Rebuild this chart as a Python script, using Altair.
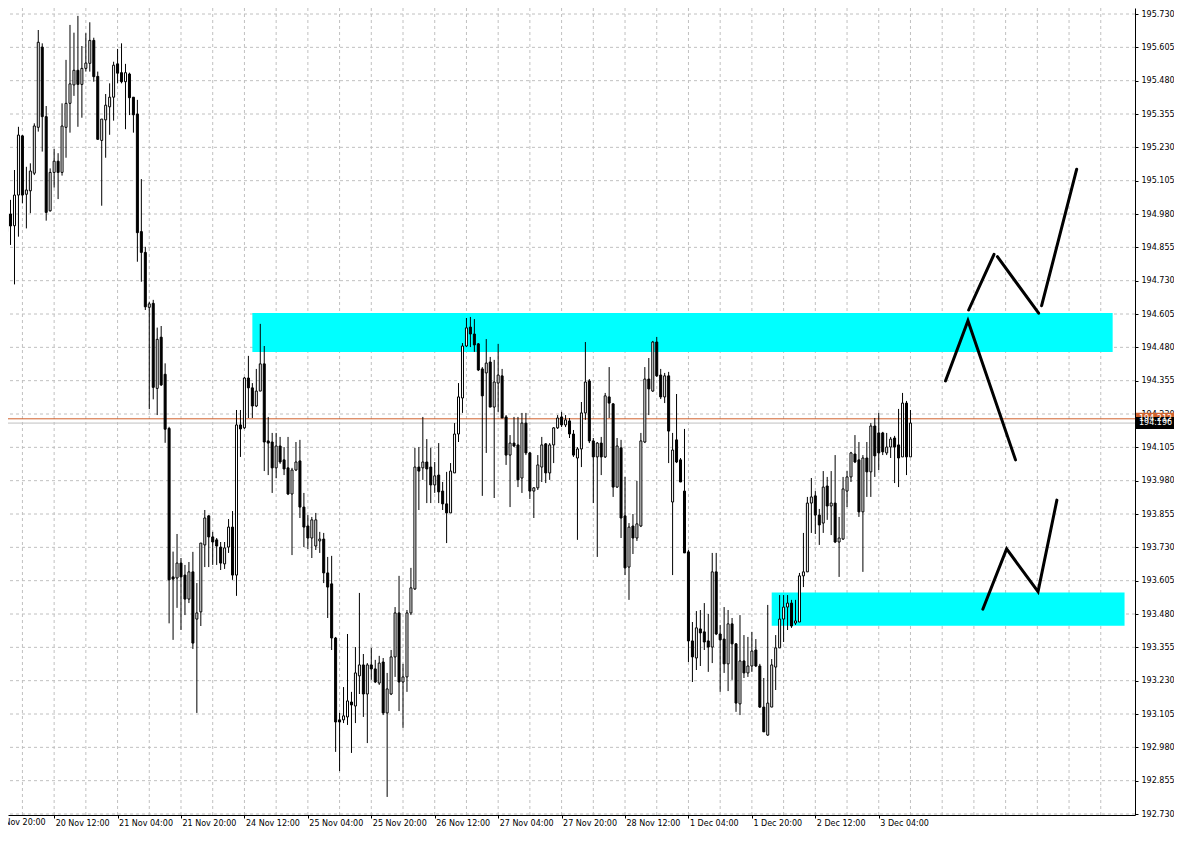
import altair as alt
import pandas as pd

# ---------------- data (H1 candles, 20 Nov 00:00 -> 3 Dec 12:00) ----------------
opens = [
    194.914, 194.980, 194.936, 195.051, 195.273, 195.054, 195.067, 195.133, 195.305, 195.606,
    195.345, 194.992, 195.136, 195.178, 195.136, 195.305, 195.395, 195.464, 195.519, 195.466,
    195.526, 195.545, 195.631, 195.496, 195.256, 195.333, 195.382, 195.418, 195.543, 195.510,
    195.476, 195.505, 195.418, 195.355, 194.914, 194.836, 194.630, 194.645, 194.326, 194.518,
    194.379, 194.176, 193.619, 193.615, 193.671, 193.626, 193.536, 193.638, 193.461, 193.488,
    193.739, 193.848, 193.769, 193.758, 193.731, 193.668, 193.731, 193.806, 193.626, 194.189,
    194.178, 194.365, 194.328, 194.260, 194.316, 194.418, 194.129, 194.125, 194.028, 194.110,
    194.058, 194.028, 193.930, 194.020, 194.054, 193.881, 193.810, 193.765, 193.735, 193.754,
    193.761, 193.634, 193.593, 193.390, 193.083, 193.083, 193.094, 193.150, 193.135, 193.248,
    193.289, 193.180, 193.289, 193.274, 193.221, 193.300, 193.109, 193.180, 193.319, 193.484,
    193.225, 193.244, 193.484, 193.574, 194.031, 194.028, 194.050, 194.031, 193.964, 194.001,
    193.941, 193.893, 193.859, 194.009, 194.155, 194.290, 194.485, 194.556, 194.530, 194.493,
    194.399, 194.384, 194.425, 194.256, 194.346, 194.373, 194.219, 194.076, 194.121, 194.114,
    193.990, 194.196, 194.084, 193.941, 193.953, 194.031, 194.118, 194.009, 194.114, 194.178,
    194.219, 194.189, 194.204, 194.155, 194.065, 194.099, 194.234, 194.354, 194.129, 194.069,
    194.121, 194.069, 194.294, 194.268, 193.956, 194.103, 193.848, 193.656, 193.810, 193.765,
    193.810, 194.125, 194.361, 194.316, 194.500, 194.376, 194.294, 194.373, 193.900, 194.133,
    194.058, 193.941, 193.713, 193.379, 193.315, 193.424, 193.413, 193.379, 193.356, 193.638,
    193.405, 193.386, 193.293, 193.443, 193.368, 193.143, 193.304, 193.259, 193.285, 193.345,
    193.285, 193.131, 193.026, 193.131, 193.281, 193.353, 193.461, 193.506, 193.521, 193.446,
    193.450, 193.623, 193.638, 193.896, 193.923, 193.851, 193.821, 193.960, 193.885, 193.896,
    193.750, 193.761, 193.941, 193.994, 194.080, 194.058, 193.863, 194.065, 194.013, 194.185,
    194.159, 194.159, 194.084, 194.106, 194.140, 194.114, 194.069, 194.271, 194.069,
]
highs = [
    195.070, 195.033, 195.145, 195.307, 195.276, 195.157, 195.170, 195.320, 195.670, 195.620,
    195.385, 195.151, 195.224, 195.208, 195.395, 195.558, 195.689, 195.660, 195.723, 195.610,
    195.658, 195.699, 195.641, 195.514, 195.336, 195.430, 195.470, 195.551, 195.599, 195.620,
    195.543, 195.510, 195.418, 195.408, 195.111, 194.857, 194.651, 194.658, 194.554, 194.560,
    194.420, 194.182, 193.714, 193.780, 193.690, 193.664, 193.675, 193.713, 193.596, 193.746,
    193.870, 193.851, 193.788, 193.765, 193.750, 193.750, 193.836, 193.866, 194.245, 194.245,
    194.369, 194.448, 194.346, 194.399, 194.568, 194.485, 194.219, 194.159, 194.159, 194.144,
    194.106, 194.144, 194.028, 194.125, 194.133, 193.934, 193.851, 193.844, 193.859, 193.788,
    193.784, 193.694, 193.698, 193.394, 193.109, 193.206, 193.405, 193.188, 193.356, 193.559,
    193.330, 193.296, 193.353, 193.308, 193.323, 193.315, 193.259, 193.345, 193.506, 193.623,
    193.293, 193.495, 193.653, 194.103, 194.106, 194.219, 194.136, 194.103, 194.050, 194.121,
    193.975, 194.013, 194.046, 194.196, 194.346, 194.496, 194.590, 194.594, 194.586, 194.496,
    194.406, 194.511, 194.444, 194.433, 194.493, 194.399, 194.226, 194.151, 194.219, 194.219,
    194.234, 194.234, 194.088, 193.956, 194.076, 194.144, 194.121, 194.121, 194.181, 194.226,
    194.238, 194.226, 194.215, 194.170, 194.106, 194.275, 194.500, 194.361, 194.140, 194.125,
    194.144, 194.309, 194.406, 194.271, 194.140, 194.133, 193.994, 193.821, 193.855, 193.979,
    194.159, 194.406, 194.440, 194.504, 194.519, 194.399, 194.384, 194.388, 194.159, 194.305,
    194.065, 194.174, 193.720, 193.450, 193.491, 193.495, 193.521, 193.480, 193.709, 193.709,
    193.439, 193.506, 193.495, 193.465, 193.371, 193.476, 193.401, 193.394, 193.413, 193.386,
    193.293, 193.240, 193.514, 193.311, 193.401, 193.551, 193.551, 193.551, 193.533, 193.533,
    193.634, 193.784, 193.919, 193.990, 193.941, 193.874, 194.016, 193.994, 194.016, 194.076,
    193.844, 193.994, 194.016, 194.088, 194.151, 194.125, 194.076, 194.125, 194.196, 194.215,
    194.234, 194.163, 194.159, 194.144, 194.148, 194.249, 194.309, 194.279, 194.245,
]
lows = [
    194.895, 194.864, 194.716, 194.895, 195.020, 194.926, 194.983, 195.126, 195.289, 195.214,
    194.955, 194.989, 195.079, 195.036, 195.124, 195.191, 195.285, 195.423, 195.307, 195.341,
    195.514, 195.514, 195.476, 195.260, 195.011, 195.191, 195.277, 195.330, 195.470, 195.470,
    195.298, 195.351, 195.285, 194.801, 194.726, 194.620, 194.248, 194.285, 194.226, 194.335,
    194.122, 193.445, 193.383, 193.503, 193.420, 193.476, 193.521, 193.349, 193.109, 193.435,
    193.656, 193.656, 193.664, 193.664, 193.645, 193.649, 193.709, 193.608, 193.548, 194.069,
    194.174, 194.215, 194.215, 194.256, 194.316, 194.016, 194.001, 193.934, 193.990, 194.043,
    194.001, 193.926, 193.701, 194.016, 193.840, 193.731, 193.724, 193.690, 193.720, 193.709,
    193.596, 193.465, 193.345, 192.963, 192.891, 193.071, 193.064, 192.959, 193.071, 193.180,
    193.094, 192.996, 193.233, 193.221, 193.214, 193.101, 192.794, 193.176, 193.244, 193.116,
    193.053, 193.188, 193.476, 193.570, 193.870, 193.983, 193.896, 193.896, 193.934, 193.896,
    193.870, 193.746, 193.859, 194.009, 194.125, 194.234, 194.481, 194.481, 194.463, 194.391,
    193.923, 194.084, 194.256, 193.915, 194.238, 194.215, 194.039, 193.881, 194.106, 193.956,
    193.934, 194.076, 193.911, 193.840, 193.945, 193.975, 193.971, 193.983, 194.046, 194.174,
    194.181, 194.181, 194.140, 194.069, 193.758, 194.031, 194.208, 194.121, 193.896, 193.694,
    194.001, 194.065, 194.215, 193.919, 193.953, 193.765, 193.626, 193.533, 193.705, 193.754,
    193.806, 194.121, 194.226, 194.313, 194.369, 194.286, 194.271, 194.046, 193.626, 194.046,
    193.975, 193.709, 193.300, 193.225, 193.270, 193.285, 193.345, 193.263, 193.296, 193.401,
    193.188, 193.259, 193.191, 193.233, 193.113, 193.101, 193.240, 193.244, 193.263, 193.281,
    193.128, 193.038, 193.023, 193.131, 193.195, 193.353, 193.375, 193.420, 193.428, 193.439,
    193.450, 193.581, 193.638, 193.784, 193.780, 193.739, 193.784, 193.833, 193.776, 193.746,
    193.619, 193.758, 193.881, 193.975, 194.046, 193.844, 193.638, 193.919, 193.919, 193.994,
    194.020, 194.076, 194.076, 194.065, 193.971, 193.956, 194.069, 194.001, 194.069,
]
closes = [
    194.983, 194.935, 195.051, 195.276, 195.051, 195.070, 195.141, 195.310, 195.624, 195.345,
    194.986, 195.136, 195.178, 195.136, 195.310, 195.395, 195.468, 195.519, 195.466, 195.526,
    195.546, 195.631, 195.495, 195.260, 195.336, 195.388, 195.418, 195.538, 195.508, 195.476,
    195.510, 195.416, 195.352, 194.910, 194.836, 194.632, 194.643, 194.330, 194.510, 194.339,
    194.173, 193.608, 193.611, 193.671, 193.619, 193.536, 193.638, 193.371, 193.484, 193.746,
    193.840, 193.769, 193.750, 193.735, 193.671, 193.728, 193.806, 193.626, 194.189, 194.174,
    194.365, 194.328, 194.260, 194.316, 194.418, 194.125, 194.121, 194.028, 194.110, 194.050,
    194.024, 193.930, 194.020, 194.050, 193.881, 193.806, 193.765, 193.833, 193.833, 193.761,
    193.634, 193.581, 193.390, 193.075, 193.075, 193.098, 193.154, 193.139, 193.259, 193.289,
    193.180, 193.289, 193.274, 193.225, 193.296, 193.109, 193.199, 193.319, 193.484, 193.225,
    193.244, 193.484, 193.578, 194.031, 194.016, 194.050, 194.024, 193.964, 193.998, 193.938,
    193.893, 193.859, 194.016, 194.155, 194.294, 194.485, 194.553, 194.530, 194.489, 194.395,
    194.298, 194.421, 194.256, 194.350, 194.376, 194.215, 194.076, 194.121, 194.110, 193.983,
    194.196, 194.084, 193.941, 193.953, 194.039, 194.114, 194.009, 194.114, 194.178, 194.215,
    194.189, 194.208, 194.155, 194.076, 194.099, 194.234, 194.350, 194.129, 194.069, 194.121,
    194.069, 194.298, 194.271, 193.956, 194.110, 193.840, 193.653, 193.806, 193.765, 193.818,
    194.129, 194.361, 194.324, 194.500, 194.373, 194.294, 194.373, 194.166, 194.095, 194.050,
    193.975, 193.709, 193.379, 193.319, 193.428, 193.409, 193.375, 193.356, 193.638, 193.405,
    193.383, 193.293, 193.443, 193.368, 193.146, 193.304, 193.259, 193.285, 193.341, 193.285,
    193.131, 193.038, 193.146, 193.289, 193.353, 193.461, 193.506, 193.521, 193.435, 193.454,
    193.623, 193.638, 193.896, 193.919, 193.851, 193.814, 193.956, 193.885, 193.896, 193.750,
    193.765, 193.949, 193.994, 194.084, 194.050, 193.863, 194.065, 194.013, 194.185, 194.073,
    194.084, 194.088, 194.106, 194.136, 194.106, 194.065, 194.271, 194.069, 194.196,
]

# price axis ticks
price_ticks = [
    192.730, 192.855, 192.980, 193.105, 193.230, 193.355, 193.480, 193.605, 193.730,
    193.855, 193.980, 194.105, 194.230, 194.355, 194.480, 194.605, 194.730, 194.855,
    194.980, 195.105, 195.230, 195.355, 195.480, 195.605, 195.730,
]
# time axis labels (candle index -> label)
label_idx = [12, 28, 44, 60, 76, 92, 108, 124, 140, 156, 172, 188, 204, 220]
label_txt = [
    "20 Nov 12:00", "21 Nov 04:00", "21 Nov 20:00", "24 Nov 12:00",
    "25 Nov 04:00", "25 Nov 20:00", "26 Nov 12:00", "27 Nov 04:00", "27 Nov 20:00",
    "28 Nov 12:00", "1 Dec 04:00", "1 Dec 20:00", "2 Dec 12:00", "3 Dec 04:00",
]
first_label_idx = [-4]
first_label_txt = ["19 Nov 20:00"]
vgrid_idx = list(range(4, 284, 8))

# cyan zones (candle index span, price span)
zone_i0 = [62, 193]
zone_i1 = [279, 282]
zone_top = [194.609, 193.561]
zone_bot = [194.4625, 193.436]

# hand-drawn scenario lines
zig_group = ["a", "a", "a", "b1", "b1", "b2", "b2", "b3", "b3", "c", "c", "c", "c"]
zig_i = [236.83, 242.5, 254.5, 242.68, 249.08, 249.93, 260.33, 261.08, 269.93,
         246.25, 252.25, 260.18, 264.93]
zig_p = [194.354, 194.580, 194.058, 194.620, 194.829, 194.820, 194.608, 194.636, 195.148,
         193.498, 193.724, 193.564, 193.907]

# current price lines / tags
pline_p = [194.212, 194.196]
pline_col = ["#d0622e", "#c0c0c0"]
tag_p = [194.212, 194.196]
tag_txt = ["194.212", "194.196"]
tag_bg = ["#d0622e", "#000000"]

# ---------------- frames ----------------
df = pd.DataFrame({"i": list(range(len(opens))), "open": opens, "high": highs,
                   "low": lows, "close": closes})
df["dir"] = ["up" if c >= o else "down" for o, c in zip(opens, closes)]

zones = pd.DataFrame({"i0": zone_i0, "i1": zone_i1, "top": zone_top, "bot": zone_bot})
zig = pd.DataFrame({"g": zig_group, "i": zig_i, "p": zig_p, "k": list(range(len(zig_i)))})
plines = pd.DataFrame({"p": pline_p, "c": pline_col})
tags = pd.DataFrame({"p": tag_p, "t": tag_txt, "bg": tag_bg})
vgrid = pd.DataFrame({"i": vgrid_idx})
hgrid = pd.DataFrame({"p": price_ticks})
first_lab = pd.DataFrame({"i": first_label_idx, "t": first_label_txt})

W, H = 1127, 807
xs = alt.Scale(domain=[1.625, 283.375], nice=False, zero=False)
ys = alt.Scale(domain=[192.72625, 195.7525], nice=False, zero=False)

label_expr = "[" + ",".join("'%s'" % s for s in label_txt) + "][(datum.value - 12) / 16]"
FONT = "DejaVu Sans"
FS = 8.0

x_axis = alt.Axis(values=label_idx, labelExpr=label_expr, title=None, grid=False,
                  orient="bottom", domainColor="black", domainWidth=1,
                  tickColor="black", tickSize=3, tickWidth=1,
                  labelAlign="left", labelBaseline="top", labelPadding=1, labelOffset=1,
                  labelFont=FONT, labelFontSize=FS, labelColor="black",
                  labelFlush=False, labelOverlap=False)
y_axis = alt.Axis(values=price_ticks, format=".3f", title=None, grid=False,
                  orient="right", domainColor="black", domainWidth=1,
                  tickColor="black", tickSize=3, tickWidth=1, labelPadding=3,
                  labelFont=FONT, labelFontSize=FS, labelColor="black",
                  labelFlush=False, labelOverlap=False)


def X(f):
    return alt.X(f + ":Q", scale=xs, axis=x_axis)


def Y(f):
    return alt.Y(f + ":Q", scale=ys, axis=y_axis)


grid_style = dict(color="#c0c0c0", strokeDash=[3, 3], strokeWidth=1)

vg = alt.Chart(vgrid).mark_rule(**grid_style).encode(x=X("i"))
hg = alt.Chart(hgrid).mark_rule(**grid_style).encode(y=Y("p"))

zone_layer = alt.Chart(zones).mark_rect(color="#00ffff").encode(
    x=X("i0"), x2="i1", y=Y("top"), y2="bot")

pl = alt.Chart(plines).mark_rule(strokeWidth=1).encode(
    y=Y("p"), color=alt.Color("c:N", scale=None, legend=None))

wicks = alt.Chart(df).mark_rule(color="black", strokeWidth=1).encode(
    x=X("i"), y=Y("low"), y2="high")

bodies = alt.Chart(df).mark_bar(size=2, stroke="black", strokeWidth=1).encode(
    x=X("i"), y=Y("open"), y2="close",
    fill=alt.Fill("dir:N", scale=alt.Scale(domain=["up", "down"], range=["white", "black"]),
                  legend=None))

zz = alt.Chart(zig).mark_line(color="black", strokeWidth=3, strokeCap="round").encode(
    x=X("i"), y=Y("p"), detail="g:N", order="k:Q")

first_text = alt.Chart(first_lab).mark_text(align="left", baseline="top", color="black",
                                            font=FONT, fontSize=FS, dx=1).encode(
    x=X("i"), y=alt.value(H + 4), text="t:N")

tag_rect = alt.Chart(tags).mark_rect(yOffset=-6, y2Offset=6).encode(
    x=alt.value(W + 1), x2=alt.value(W + 39), y=Y("p"), y2="p",
    fill=alt.Fill("bg:N", scale=None, legend=None))
tag_text = alt.Chart(tags).mark_text(align="left", baseline="middle", color="white",
                                     font=FONT, fontSize=FS).encode(
    x=alt.value(W + 4), y=Y("p"), text="t:N")

chart = alt.layer(vg, hg, zone_layer, pl, wicks, bodies, zz, first_text,
                  tag_rect, tag_text).properties(
    width=W, height=H,
    padding={"left": 0, "top": 0, "right": 39, "bottom": 14},
    autosize=alt.AutoSizeParams(type="none"),
    background="white",
).configure_view(stroke=None)

chart.save("out.html", embed_options={"renderer": "svg", "actions": False})
